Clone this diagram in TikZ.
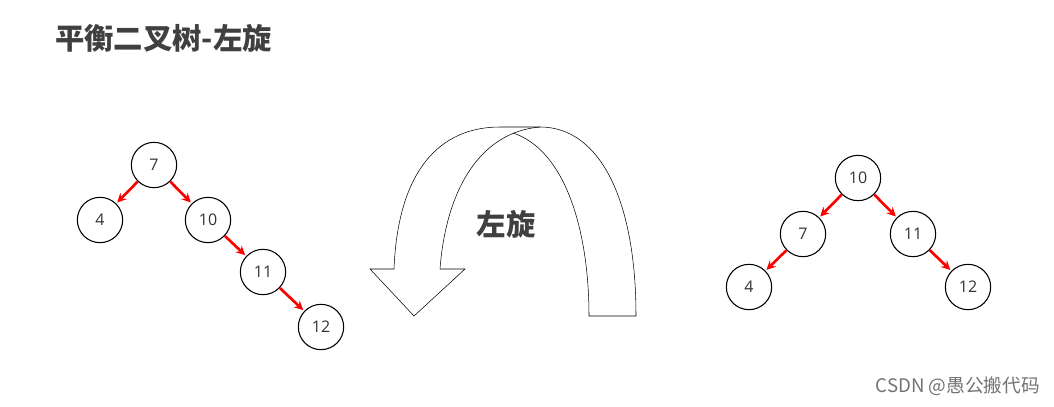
\documentclass[tikz,border=0pt]{standalone}
\usepackage{fontspec}
\setmainfont{Open Sans}
\newfontfamily\cjk{Noto Sans CJK SC}
\begin{document}
\begin{tikzpicture}[x=0.75pt,y=-0.75pt,
  tn/.style={circle,draw,thick,minimum size=34pt,inner sep=0pt,font=\fontsize{12}{14}\selectfont,text=black!80},
  ra/.style={red,line width=2pt,-stealth,shorten >=1pt}]
\useasboundingbox (0,0) rectangle (1054,407);
\node[anchor=west,inner sep=0pt,font=\cjk\bfseries\fontsize{22}{24}\selectfont,text=black!75] (title) at (55,38) {平衡二叉树-左旋};
% left tree
\node[tn] (a7) at (154,165) {7};
\node[tn] (a4) at (100,220) {4};
\node[tn] (a10) at (208,220) {10};
\node[tn] (a11) at (263,272) {11};
\node[tn] (a12) at (321,327) {12};
\draw[ra] (a7) -- (a4);
\draw[ra] (a7) -- (a10);
\draw[ra] (a10) -- (a11);
\draw[ra] (a11) -- (a12);
% right tree
\node[tn] (b10) at (858,178) {10};
\node[tn] (b7) at (803,234) {7};
\node[tn] (b11) at (913,234) {11};
\node[tn] (b4) at (749,287) {4};
\node[tn] (b12) at (968,287) {12};
\draw[ra] (b10) -- (b7);
\draw[ra] (b10) -- (b11);
\draw[ra] (b7) -- (b4);
\draw[ra] (b11) -- (b12);
% big arrow
\draw[thin] (394,269) .. controls (398,170) and (440,127) .. (500,127) -- (540,127)
  .. controls (600,127) and (636,200) .. (636,316) -- (589,316)
  .. controls (589,230) and (565,150) .. (513,133);
\draw[thin] (440,269) .. controls (446,190) and (480,132) .. (540,127);
\draw[thin] (394,269) -- (370,269) -- (414,316) -- (465,269) -- (440,269);
\node[font=\cjk\bfseries\fontsize{22}{24}\selectfont,text=black!75] (lbl) at (506,224) {左旋};
\node[anchor=east,inner sep=0pt,font=\cjk\fontsize{14}{16}\selectfont,text=black!55] (wm) at (1040,386) {CSDN @愚公搬代码};
\end{tikzpicture}
\end{document}
